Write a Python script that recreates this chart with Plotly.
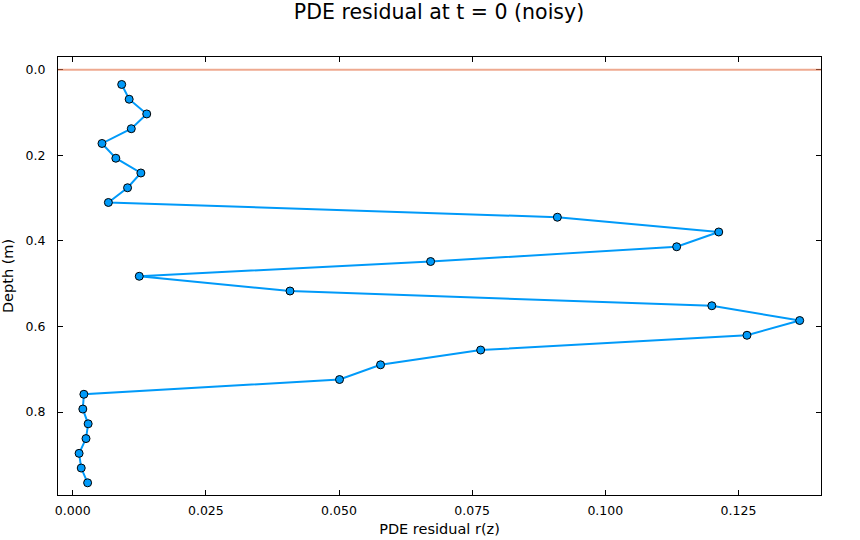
import plotly.graph_objects as go

depth = [0.0345, 0.0690, 0.1034, 0.1379, 0.1724, 0.2069, 0.2414, 0.2759, 0.3103, 0.3448,
         0.3793, 0.4138, 0.4483, 0.4828, 0.5172, 0.5517, 0.5862, 0.6207, 0.6552, 0.6897,
         0.7241, 0.7586, 0.7931, 0.8276, 0.8621, 0.8966, 0.9310, 0.9655]
residual = [0.0092, 0.0106, 0.0139, 0.0110, 0.0055, 0.0081, 0.0128, 0.0103, 0.0067, 0.0910,
            0.1213, 0.1134, 0.0672, 0.0125, 0.0408, 0.1200, 0.1365, 0.1266, 0.0766, 0.0578,
            0.0501, 0.0021, 0.0019, 0.0029, 0.0025, 0.0012, 0.0016, 0.0028]
ref_level = 0.0
x_ticks = [0.000, 0.025, 0.050, 0.075, 0.100, 0.125]
y_ticks = [0.0, 0.2, 0.4, 0.6, 0.8]

FONT = "DejaVu Sans"

fig = go.Figure()
fig.add_hline(y=ref_level, line=dict(color="rgba(226,111,70,0.6)", width=2))
fig.add_trace(go.Scatter(
    x=residual, y=depth, mode="lines+markers",
    line=dict(color="#009af9", width=2),
    marker=dict(color="#009af9", size=8, line=dict(color="black", width=1)),
    showlegend=False,
))

axis_common = dict(
    showgrid=False, zeroline=False, showline=True, linecolor="black", linewidth=1,
    mirror="ticks", ticks="inside", ticklen=5, tickcolor="black", automargin=False,
    tickfont=dict(family=FONT, size=12.5, color="black"),
)
fig.update_xaxes(range=[-0.00276, 0.1405], tickvals=x_ticks,
                 ticktext=[f"{v:.3f}" for v in x_ticks], ticklabelstandoff=4,
                 title=dict(text="PDE residual r(z)", font=dict(family=FONT, size=14.5, color="black"), standoff=6),
                 **axis_common)
fig.update_yaxes(range=[0.994, -0.0297], tickvals=y_ticks,
                 ticktext=[f"{v:.1f}" for v in y_ticks], ticklabelstandoff=9,
                 title=dict(text="Depth (m)", font=dict(family=FONT, size=14.5, color="black"), standoff=13),
                 **axis_common)
fig.update_layout(
    width=860, height=540,
    margin=dict(l=58, r=39, t=57, b=45),
    paper_bgcolor="white", plot_bgcolor="white",
    title=dict(text="PDE residual at t = 0 (noisy)", x=439/860, xanchor="center", y=1-12/540, yanchor="middle",
               font=dict(family=FONT, size=20.5, color="black")),
    font=dict(family=FONT, color="black"),
)
fig.write_html("out.html", config={"displayModeBar": False},
               post_script="document.body.style.margin='0';")
